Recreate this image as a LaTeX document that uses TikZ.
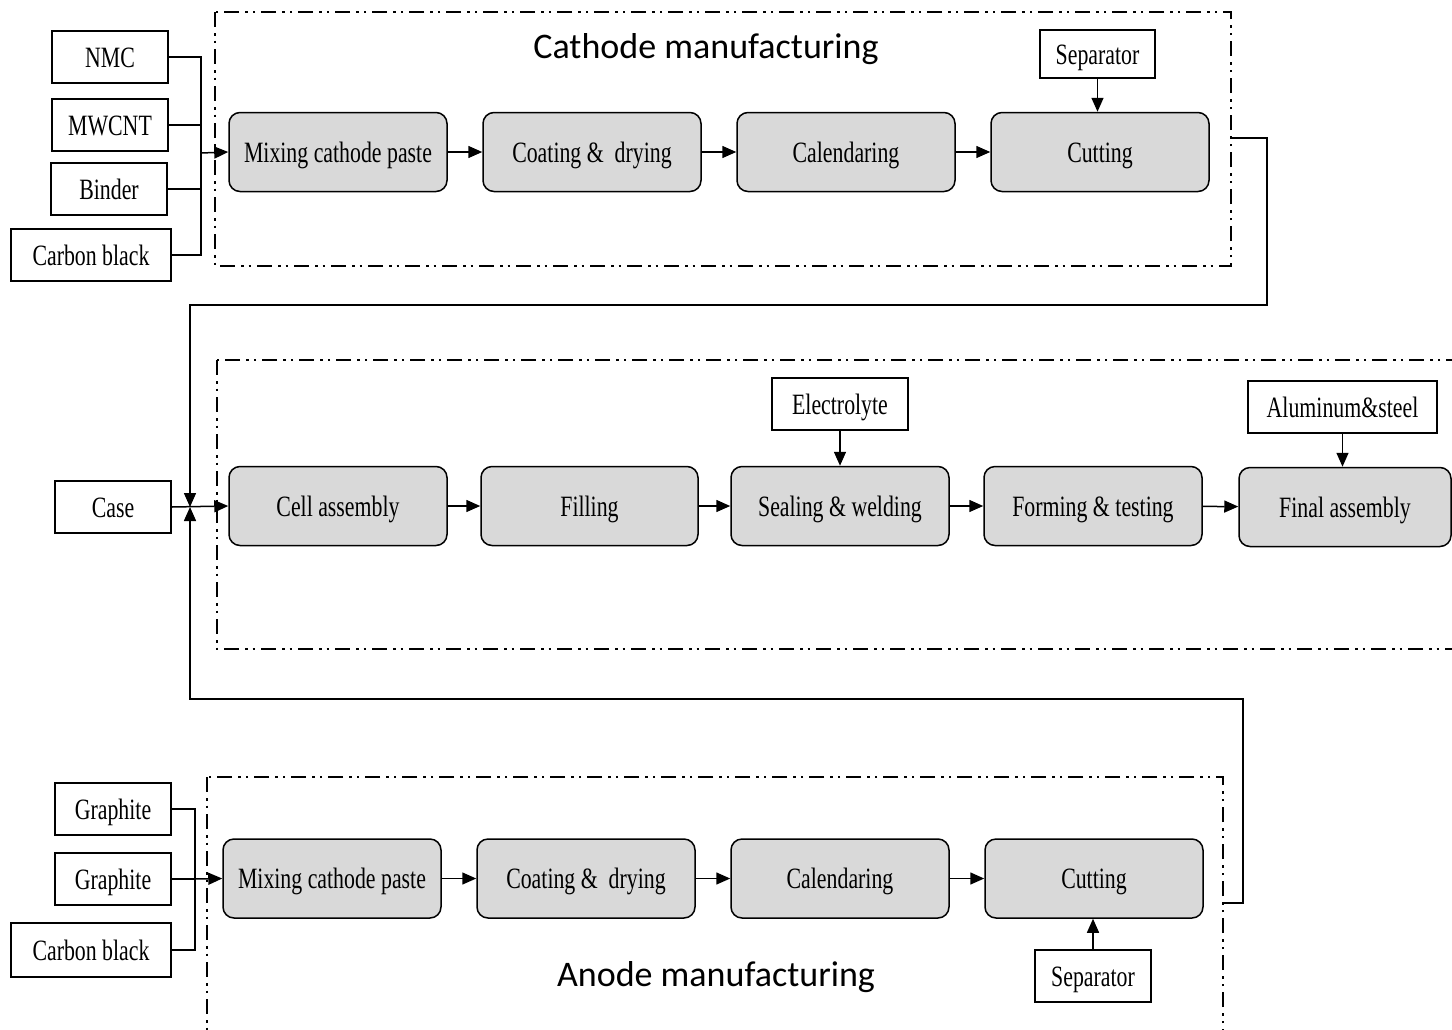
\documentclass[tikz,border=0pt]{standalone}
\usepackage{fontspec}
\setmainfont[FakeStretch=0.74]{Liberation Serif}
\newfontfamily\titlefont{Carlito}
\usetikzlibrary{arrows.meta}
\definecolor{procgray}{HTML}{D9D9D9}

\begin{document}
\begin{tikzpicture}[x=1pt,y=-1pt,
  txt/.style={font=\fontsize{29.5}{32}\selectfont, text height=22pt, text depth=2pt},
  proc/.style={txt, draw, line width=1.5pt, fill=procgray, rounded corners=11pt,
    minimum width=218pt, minimum height=79pt, inner sep=0pt},
  inbox/.style={txt, draw, line width=1.5pt, fill=white, inner sep=0pt,
    minimum width=116pt, minimum height=52pt},
  frame/.style={line width=2pt, dash pattern=on 15pt off 6pt on 2.5pt off 5pt on 2.5pt off 6pt},
  link/.style={line width=1.5pt},
  arr/.style={link, -{Triangle[length=14pt,width=12pt]}},
  title/.style={font=\titlefont\fontsize{36}{40}\selectfont}
]
\useasboundingbox (0,0) rectangle (1452,1029);
\clip (0,0) rectangle (1452,1029);

% process frames
\draw[frame] (215,12) rectangle (1231,266);
\draw[frame] (217,360) rectangle (1475,649);
\draw[frame] (207,777) rectangle (1223,1050);

% ---------- cathode line ----------
\node[title] (cathtitle) at (706,49) {Cathode manufacturing};
\node[inbox] (nmc) at (110,57) {NMC};
\node[inbox] (mwcnt) at (110,125) {MWCNT};
\node[inbox] (binder) at (109,189) {Binder};
\node[inbox, minimum width=160pt] (cbc) at (91,255) {Carbon black};

\node[proc] (cmix) at (338,152) {Mixing cathode paste};
\node[proc] (ccoat) at (592,152) {Coating \& \ drying};
\node[proc] (ccal) at (846,152) {Calendaring};
\node[proc] (ccut) at (1100,152) {Cutting};
\node[inbox, minimum width=115pt, minimum height=48pt] (csep) at (1097.5,54) {Separator};

\coordinate (cbus) at (201,153);
\draw[link] (nmc.east) -- (nmc.east -| cbus) -- (cbc.east -| cbus) -- (cbc.east);
\draw[link] (mwcnt.east) -- (mwcnt.east -| cbus);
\draw[link] (binder.east) -- (binder.east -| cbus);
\draw[arr] (cbus) -- (cmix.west);
\draw[arr] (cmix) -- (ccoat);
\draw[arr] (ccoat) -- (ccal);
\draw[arr] (ccal) -- (ccut);
\draw[arr] (csep.south) -- (csep.south |- ccut.north);

% ---------- cell line ----------
\node[inbox] (case) at (113,507) {Case};
\node[proc] (cell) at (338,506) {Cell assembly};
\node[proc, minimum width=217pt] (fill) at (589.5,506) {Filling};
\node[proc] (seal) at (840,506) {Sealing \& welding};
\node[proc] (form) at (1093,506) {Forming \& testing};
\node[proc, minimum width=212pt] (final) at (1345,507) {Final assembly};
\node[inbox, minimum width=136pt] (elec) at (840,404) {Electrolyte};
\node[inbox, minimum width=189pt] (alu) at (1342.5,407) {Aluminum\&steel};

\coordinate (jn) at (190,507);
\draw[arr] (case.east) -- (cell.west);
\draw[arr] (cell) -- (fill);
\draw[arr] (fill) -- (seal);
\draw[arr] (seal) -- (form);
\draw[arr] (form) -- (final);
\draw[arr] (elec.south) -- (elec.south |- seal.north);
\draw[arr] (alu.south) -- (alu.south |- final.north);

% ---------- anode line ----------
\node[title] (antitle) at (716,977) {Anode manufacturing};
\node[inbox] (gr1) at (113,809) {Graphite};
\node[inbox] (gr2) at (113,879) {Graphite};
\node[inbox, minimum width=160pt, minimum height=54pt] (cba) at (91,950) {Carbon black};

\node[proc] (amix) at (332,878.5) {Mixing cathode paste};
\node[proc] (acoat) at (586,878.5) {Coating \& \ drying};
\node[proc] (acal) at (840,878.5) {Calendaring};
\node[proc] (acut) at (1094,878.5) {Cutting};
\node[inbox] (asep) at (1093,976) {Separator};

\coordinate (abus) at (195,879);
\draw[link] (gr1.east) -- (gr1.east -| abus) -- (cba.east -| abus) -- (cba.east);
\draw[link] (gr2.east) -- (abus);
\draw[arr] (abus) -- (amix.west);
\draw[arr] (amix) -- (acoat);
\draw[arr] (acoat) -- (acal);
\draw[arr] (acal) -- (acut);
\draw[arr] (asep.north) -- (asep.north |- acut.south);

% ---------- transfer lines into the cell line ----------
\coordinate (cathout) at (1231,138);
\coordinate (anout) at (1223,903);
\draw[arr] (cathout) -- (1267,138) -- (1267,305) -- (190,305) -- (jn);
\draw[arr] (anout) -- (1243,903) -- (1243,699) -- (190,699) -- (jn);
\end{tikzpicture}
\end{document}
